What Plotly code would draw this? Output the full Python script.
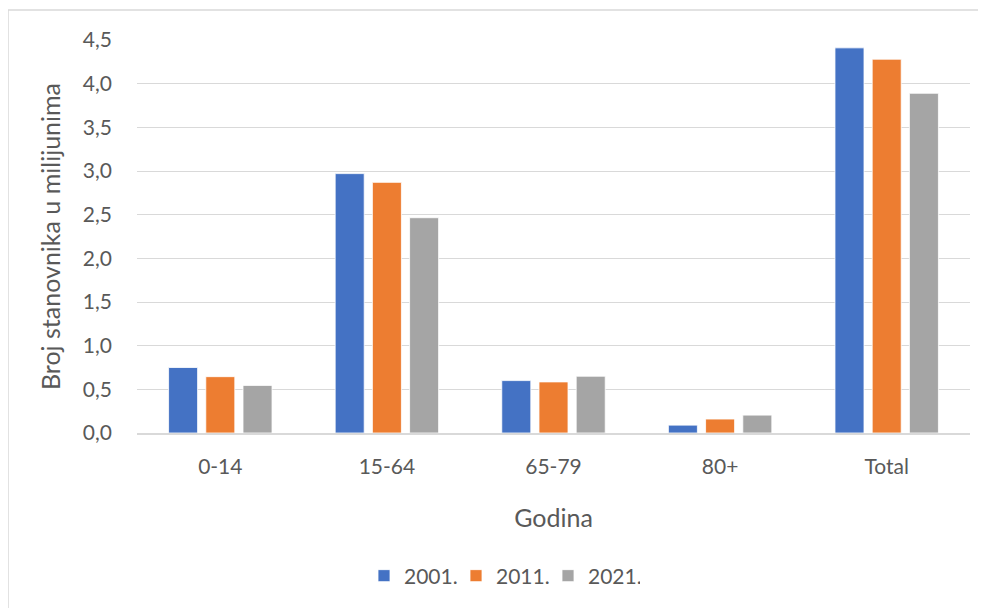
import plotly.graph_objects as go

categories = ["0-14", "15-64", "65-79", "80+", "Total"]
series_names = ["2001.", "2011.", "2021."]
values_2001 = [0.75, 2.97, 0.60, 0.09, 4.41]
values_2011 = [0.645, 2.87, 0.585, 0.16, 4.28]
values_2021 = [0.545, 2.465, 0.65, 0.205, 3.89]
colors = ["#4472C4", "#ED7D31", "#A5A5A5"]
tick_vals = [0, 0.5, 1, 1.5, 2, 2.5, 3, 3.5, 4, 4.5]
tick_text = ["0,0", "0,5", "1,0", "1,5", "2,0", "2,5", "3,0", "3,5", "4,0", "4,5"]

FONT = "Lato"
TXT = "#595959"

fig = go.Figure()
for name, vals, col in zip(series_names, [values_2001, values_2011, values_2021], colors):
    fig.add_trace(go.Bar(x=categories, y=vals, name=name,
                         marker=dict(color=col, line=dict(color="white", width=0.8))))

# page body adds an 8px offset; target screen coordinates minus 8
OFF = 8
W, H = 986, 608
L, R, T, B = 137 - OFF, 986 - (970 - OFF), 40 - OFF, 608 - (433 - OFF)
pw, ph = W - L - R, H - T - B

def px(x):
    return (x - OFF - L) / pw

def py(y):
    return (H - B - (y - OFF)) / ph

fig.update_layout(
    width=W, height=H,
    margin=dict(l=L, r=R, t=T, b=B, pad=0),
    plot_bgcolor="white", paper_bgcolor="white",
    barmode="group", bargap=0.33, bargroupgap=0.22,
    font=dict(family=FONT, color=TXT, size=21),
    legend=dict(orientation="h", x=px(364), xanchor="left", y=py(576), yanchor="middle",
                font=dict(size=21, color=TXT), itemwidth=30, traceorder="normal",
                entrywidth=47, entrywidthmode="pixels"),
    xaxis=dict(showgrid=False, showline=True, linecolor="#D9D9D9", linewidth=1.5,
               ticks="", ticklabelstandoff=14, tickfont=dict(size=21, color=TXT),
               title=dict(text="Godina", font=dict(size=25, color=TXT), standoff=33)),
    yaxis=dict(range=[0, 4.5], tickvals=tick_vals, ticktext=tick_text,
               showgrid=True, gridcolor="#D9D9D9", gridwidth=1, zeroline=False,
               showline=False, ticks="", ticklabelstandoff=24,
               tickfont=dict(size=21, color=TXT),
               title=dict(text="Broj stanovnika u milijunima", font=dict(size=25, color=TXT), standoff=15)),
    shapes=[dict(type="rect", xref="paper", yref="paper",
                 x0=px(8), x1=px(W + 20), y0=py(H + 20), y1=py(10),
                 line=dict(color="#D9D9D9", width=1.5), fillcolor="rgba(0,0,0,0)", layer="below")],
)

fig.write_html("out.html")
